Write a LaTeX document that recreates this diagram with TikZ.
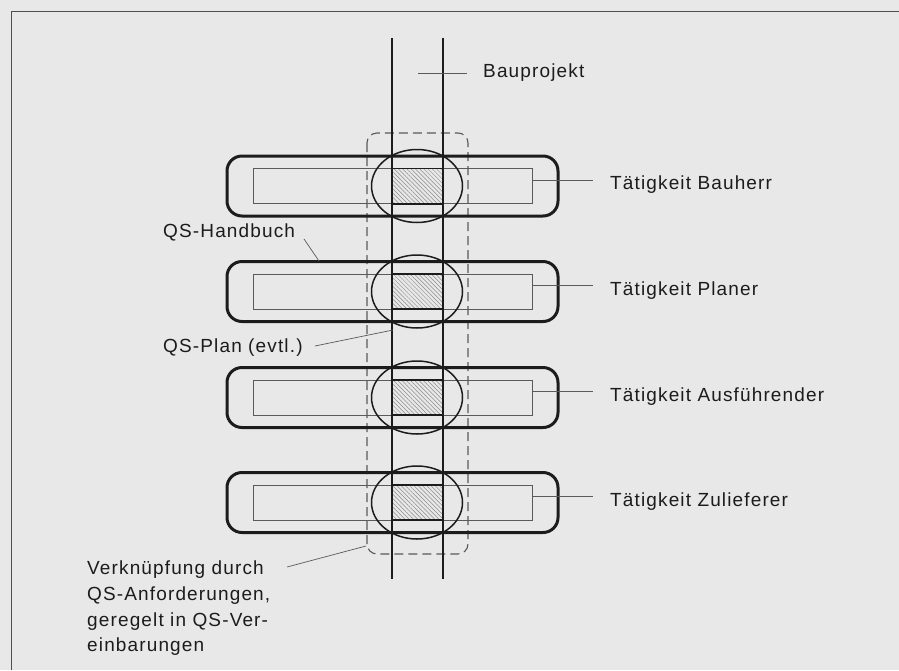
\documentclass[tikz,border=0pt]{standalone}
\usepackage{fontspec}
\newfontfamily\labfont{Liberation Sans}[LetterSpace=6]
\usetikzlibrary{shapes.geometric,patterns.meta}
\definecolor{bg}{RGB}{232,232,232}
\definecolor{ink}{RGB}{28,28,28}
\definecolor{thinink}{RGB}{90,90,90}
\definecolor{hatchcol}{RGB}{140,140,140}
\definecolor{framecol}{RGB}{80,80,80}
\begin{document}
\begin{tikzpicture}[x=1pt,y=-1pt,
  lbl/.style={font=\labfont\fontsize{19}{25.6}\selectfont, text=ink, inner sep=0pt, anchor=west},
  outerbox/.style={draw=ink, line width=3pt, rounded corners=15pt, minimum width=331pt, minimum height=60pt, inner sep=0pt},
  innerbox/.style={draw=thinink, line width=0.8pt, minimum width=279pt, minimum height=35pt, inner sep=0pt},
  hatchbox/.style={pattern={Lines[angle=-45,distance=3pt,line width=0.5pt]}, pattern color=hatchcol, minimum width=51pt, minimum height=35pt, inner sep=0pt},
  ringnode/.style={ellipse, draw=ink, line width=1.5pt, minimum width=91pt, minimum height=73pt, inner sep=0pt},
  leader/.style={draw=thinink, line width=0.7pt},
  projline/.style={draw=ink, line width=1.8pt}
]
% background and bounding box
\fill[bg] (0,0) rectangle (899,670);
\useasboundingbox (0,0) rectangle (899,670);
% frame
\draw[framecol, line width=1pt] (899,11) -- (11,11) -- (11,670);
% dashed linking box
\draw[thinink, line width=1.1pt, dash pattern=on 9pt off 5pt, rounded corners=10pt] (367,133) rectangle (468,554);
% rows
\foreach \i/\cy/\txt in {1/186/Bauherr, 2/291.5/Planer, 3/397.5/Ausführender, 4/502.5/Zulieferer}{
  \node[innerbox] (in\i) at (392.5,\cy) {};
  \node[hatchbox] (h\i) at (417.5,\cy) {};
  \draw[ink, line width=1.5pt] (h\i.north west) -- (h\i.north east);
  \draw[ink, line width=1.5pt] (h\i.south west) -- (h\i.south east);
  \node[outerbox] (o\i) at (392.5,\cy) {};
  \node[ringnode] (e\i) at (417,\cy) {};
  \node[lbl] (t\i) at (610,{\cy-1}) {Tätigkeit \txt};
  \coordinate (c\i) at (593,{\cy-6});
  \draw[leader] (in\i.east |- c\i) -- (c\i);
}
% project lines
\coordinate (p1t) at (392,38);
\coordinate (p1b) at (392,579);
\coordinate (p2t) at (443,38);
\coordinate (p2b) at (443,579);
\draw[projline] (p1t) -- (p1b);
\draw[projline] (p2t) -- (p2b);
% Bauprojekt label
\node[lbl] (bau) at (483,73) {Bauprojekt};
\coordinate (bp) at (418,73);
\draw[leader] (bp) -- ([xshift=-16pt]bau.west);
% QS-Handbuch
\node[lbl] (hb) at (163,232) {QS-Handbuch};
\coordinate (hbA) at (304,239);
\coordinate (hbB) at (319,261);
\draw[leader] (hbA) -- (hbB);
% QS-Plan
\node[lbl] (qp) at (163,348) {QS-Plan (evtl.)};
\coordinate (qpA) at (315,346);
\coordinate (qpB) at (393,330);
\draw[leader] (qpA) -- (qpB);
% Verknuepfung
\node[lbl, anchor=north west, align=left] (vk) at (87,561) {Verknüpfung durch\\QS-Anforderungen,\\geregelt in QS-Ver-\\einbarungen};
\coordinate (vkA) at (287,567);
\coordinate (vkB) at (366,546);
\draw[leader] (vkA) -- (vkB);
\end{tikzpicture}
\end{document}
